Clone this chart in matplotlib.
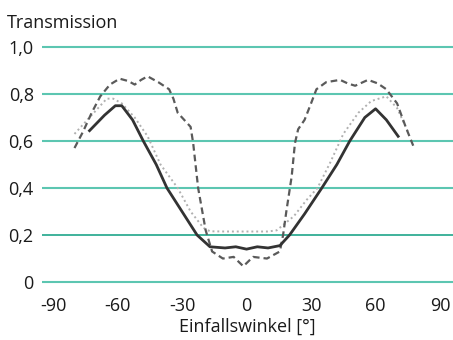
import matplotlib
matplotlib.use("Agg")
import matplotlib.pyplot as plt

plt.rcParams['font.family'] = ['Open Sans', 'DejaVu Sans']

solid_x = [-73, -66, -61, -58, -53, -48, -42, -37, -30, -23, -17, -10, -5, 0, 5, 10, 15.5, 20, 27, 35, 42, 48, 55, 60, 65, 70.5]
solid_y = [0.644, 0.71, 0.75, 0.75, 0.69, 0.60, 0.50, 0.40, 0.30, 0.20, 0.15, 0.145, 0.15, 0.14, 0.15, 0.145, 0.155, 0.20, 0.29, 0.40, 0.50, 0.60, 0.70, 0.737, 0.69, 0.62]

dashed_x = [-80, -76, -72, -68, -63.5, -59, -55, -52, -49, -46, -41, -36, -34, -32, -28, -26, -24.8, -22.5, -19, -16, -11, -6, -1.5, 3, 9.5, 15.5, 17, 18.5, 21, 22.5, 24, 27, 30, 32.5, 37, 43.5, 47, 50.5, 56.5, 61, 65, 70, 74, 77.5]
dashed_y = [0.57, 0.64, 0.72, 0.79, 0.84, 0.865, 0.855, 0.84, 0.86, 0.875, 0.85, 0.82, 0.78, 0.72, 0.68, 0.66, 0.59, 0.40, 0.22, 0.13, 0.10, 0.107, 0.067, 0.107, 0.10, 0.13, 0.20, 0.30, 0.45, 0.59, 0.65, 0.69, 0.76, 0.82, 0.85, 0.86, 0.845, 0.835, 0.86, 0.845, 0.82, 0.76, 0.66, 0.58]

dotted_x = [-80, -75, -70, -65, -62, -58, -52, -46, -40, -32, -26, -20, -17, -10, 0, 10, 14, 18, 22, 28, 33, 39, 45, 52, 58, 65, 70, 75]
dotted_y = [0.63, 0.68, 0.73, 0.78, 0.78, 0.76, 0.70, 0.62, 0.50, 0.40, 0.30, 0.23, 0.216, 0.215, 0.215, 0.215, 0.22, 0.25, 0.28, 0.35, 0.40, 0.51, 0.63, 0.72, 0.77, 0.79, 0.74, 0.64]

yticks = [0, 0.2, 0.4, 0.6, 0.8, 1.0]
ytick_labels = ['0', '0,2', '0,4', '0,6', '0,8', '1,0']
xticks = [-90, -60, -30, 0, 30, 60, 90]
xtick_labels = ['-90', '-60', '-30', '0', '30', '60', '90']

W, H = 453, 340
fig = plt.figure(figsize=(W / 100, H / 100), dpi=100)
ax = fig.add_axes([42 / W, 1 - 284.4 / H, 1 - 42 / W, (284.4 - 44.6) / H])
ax.set_xlim(-95.1, 96.0)
ax.set_ylim(-0.01, 1.01)

for yv in yticks:
    if yv == 0.2:
        ax.axhline(yv, color='#1fa58a', lw=1.2, zorder=1)
    else:
        ax.axhline(yv, color='#5cc6b1', lw=1.5, zorder=1)

ax.plot(dotted_x, dotted_y, color='#b0b0b0', lw=1.4, ls=(0, (1, 1.5)), zorder=2)
ax.plot(dashed_x, dashed_y, color='#5a5a5a', lw=1.6, ls=(0, (3, 1.8)), zorder=3)
ax.plot(solid_x, solid_y, color='#333333', lw=2.0, zorder=4)

for s in ax.spines.values():
    s.set_visible(False)
ax.set_yticks(yticks)
ax.set_yticklabels(ytick_labels)
ax.set_xticks(xticks)
ax.set_xticklabels(xtick_labels)
ax.tick_params(axis='both', length=0, labelsize=13, colors='#1a1a1a')
ax.tick_params(axis='y', pad=6)
ax.tick_params(axis='x', pad=9)
ax.set_xlabel('Einfallswinkel [°]', fontsize=13, color='#1a1a1a', labelpad=2)

fig.text(7 / W, 1 - 28 / H, 'Transmission', fontsize=13, color='#1a1a1a', va='baseline', ha='left')

fig.savefig('out.png', dpi=100)
